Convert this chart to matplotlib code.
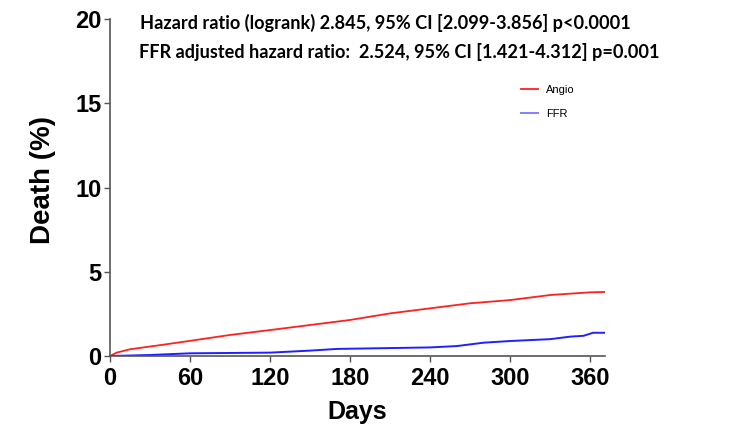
import matplotlib
matplotlib.use('Agg')
import matplotlib.pyplot as plt

# Kaplan-Meier style cumulative death curves
angio_days = [0, 5, 15, 38, 60, 90, 120, 150, 180, 210, 240, 270, 300, 330, 360, 371]
angio_pct = [0, 0.2, 0.4, 0.65, 0.9, 1.25, 1.54, 1.84, 2.14, 2.53, 2.83, 3.13, 3.32, 3.62, 3.78, 3.8]

ffr_days = [0, 30, 60, 120, 150, 170, 240, 260, 280, 300, 330, 345, 355, 362, 371]
ffr_pct = [0, 0.06, 0.16, 0.2, 0.32, 0.42, 0.51, 0.59, 0.79, 0.89, 1.0, 1.15, 1.2, 1.38, 1.38]

x_ticks = [0, 60, 120, 180, 240, 300, 360]
y_ticks = [0, 5, 10, 15, 20]

line1 = "Hazard ratio (logrank) 2.845, 95% CI [2.099-3.856] p<0.0001"
line2 = "FFR adjusted hazard ratio:  2.524, 95% CI [1.421-4.312] p=0.001"

plt.rcParams['font.family'] = ['Liberation Sans', 'DejaVu Sans']

fig = plt.figure(figsize=(7.3, 4.26), dpi=100)
ax = fig.add_axes([0.1507, 0.1643, 0.678, 0.791])

ax.plot(angio_days, angio_pct, color='#ff2020', lw=1.3, label='Angio')
ax.plot(ffr_days, ffr_pct, color='#2020ff', lw=1.4, label='FFR')

ax.set_xlim(0, 371)
ax.set_ylim(0, 20)
ax.set_xticks(x_ticks)
ax.set_yticks(y_ticks)
for lab in ax.get_xticklabels() + ax.get_yticklabels():
    lab.set_fontweight('bold')
    lab.set_fontsize(17)
ax.tick_params(direction='out', length=4, width=1, color='#555555')
ax.tick_params(axis='x', pad=4)
ax.tick_params(axis='y', pad=2)

for side in ('top', 'right'):
    ax.spines[side].set_visible(False)
for side in ('left', 'bottom'):
    ax.spines[side].set_color('#555555')
    ax.spines[side].set_linewidth(1.2)

ax.set_xlabel('Days', fontsize=18, fontweight='bold', labelpad=7)
ax.set_ylabel('Death (%)', fontsize=20, fontweight='bold')
ax.yaxis.set_label_coords(-0.11, 0.522)

fig.text(140 / 730, 1 - 23 / 426, line1, fontsize=13.1, fontweight='bold',
         family=['Lato', 'DejaVu Sans'], va='center', ha='left')
fig.text(139 / 730, 1 - 52 / 426, line2, fontsize=13.1, fontweight='bold',
         family=['Lato', 'DejaVu Sans'], va='center', ha='left')

leg = ax.legend(loc='upper left', bbox_to_anchor=(0.81, 0.835), frameon=False,
                fontsize=8, handlelength=1.5, labelspacing=1.3)
leg.get_lines()[1].set_color('#8080ff')

fig.savefig('out.png', dpi=100)
